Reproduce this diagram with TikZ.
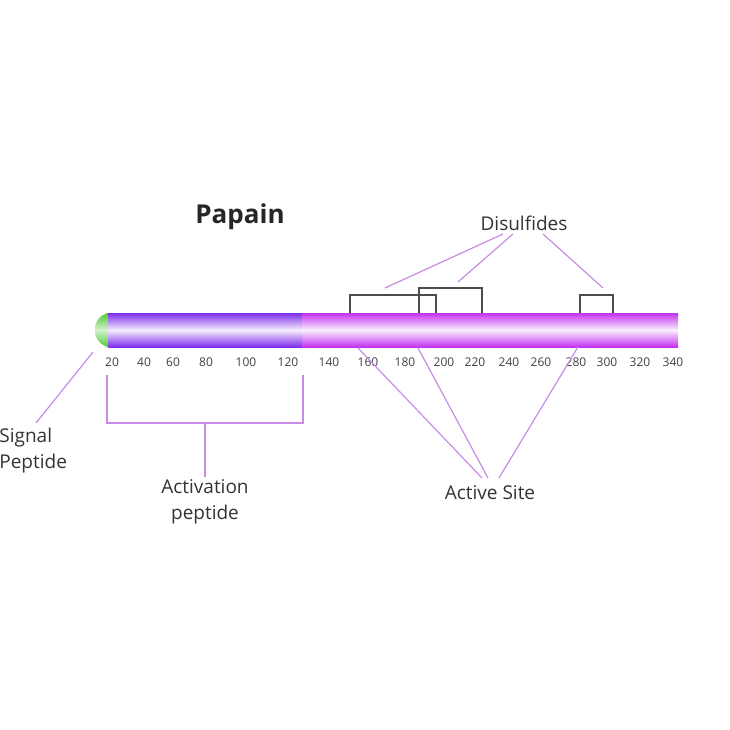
\documentclass[tikz,border=0pt]{standalone}
\usepackage{fontspec}
\setmainfont{Open Sans}
\usetikzlibrary{positioning}
\definecolor{violetbar}{RGB}{125,45,235}
\definecolor{magbar}{RGB}{195,50,240}
\definecolor{linkline}{RGB}{200,140,230}
\definecolor{greencap}{RGB}{80,200,50}

\begin{document}
\begin{tikzpicture}[
  x=0.5pt, y=-0.5pt,
  tick/.style={font=\fontsize{6}{7}\selectfont, text=black!75, inner sep=1pt},
  lbl/.style={font=\fontsize{9.5}{13}\selectfont, text=black!80, align=center, inner sep=1pt},
  link/.style={draw=linkline, line width=0.6pt},
  bridge/.style={draw=black!70, line width=0.6pt}
]
\useasboundingbox (0,0) rectangle (730,730);

% the chain
\shade[top color=greencap, bottom color=greencap, middle color=greencap!25, rounded corners=8pt] (95,313) rectangle (120,347);
\shade[top color=violetbar, bottom color=violetbar, middle color=violetbar!8] (108,313) rectangle (302,347);
\shade[top color=magbar, bottom color=magbar, middle color=magbar!8] (302,313) rectangle (678,347);

\node[font=\fontsize{13}{15}\selectfont\bfseries, text=black!85] (title) at (240,217) {Papain};

\foreach \x/\n in {112/20,144/40,173/60,206/80,246/100,288/120,329/140,368/160,405/180,444/200,475/220,509/240,541/260,576/280,607/300,640/320,673/340}
  \node[tick] (t\n) at (\x,362) {\n};

% disulfide bridges
\draw[bridge] (350,313) |- (436,295) -- (436,313);
\draw[bridge] (419,313) |- (482,288) -- (482,313);
\draw[bridge] (580,313) |- (613,295) -- (613,313);

\node[lbl] (disulf) at (524,223) {Disulfides};
\coordinate (d1) at (503,234);
\coordinate (d2) at (513,234);
\coordinate (d3) at (543,234);
\coordinate (b1) at (385,288);
\coordinate (b2) at (458,282);
\coordinate (b3) at (603,288);
\draw[link] (d1) -- (b1);
\draw[link] (d2) -- (b2);
\draw[link] (d3) -- (b3);

% active site
\node[lbl] (active) at (490,493) {Active Site};
\coordinate (a1) at (482,478);
\coordinate (a2) at (488,478);
\coordinate (a3) at (499,478);
\coordinate (s1) at (358,348);
\coordinate (s2) at (418,348);
\coordinate (s3) at (578,347);
\draw[link] (a1) -- (s1);
\draw[link] (a2) -- (s2);
\draw[link] (a3) -- (s3);

% signal peptide
\node[lbl, align=left, anchor=west] (signal) at (-3,451) {Signal\\Peptide};
\coordinate (sp) at (93,352);
\coordinate (sl) at (36,423);
\draw[link] (sl) -- (sp);

% activation peptide
\coordinate (ap1) at (107,375);
\coordinate (ap2) at (303,375);
\coordinate (apm) at (205,423);
\node[lbl] (activ) at (205,502) {Activation\\peptide};
\draw[link] (ap1) |- (ap2 |- apm) -- (ap2);
\draw[link] (apm) -- (activ.north);

\end{tikzpicture}
\end{document}
